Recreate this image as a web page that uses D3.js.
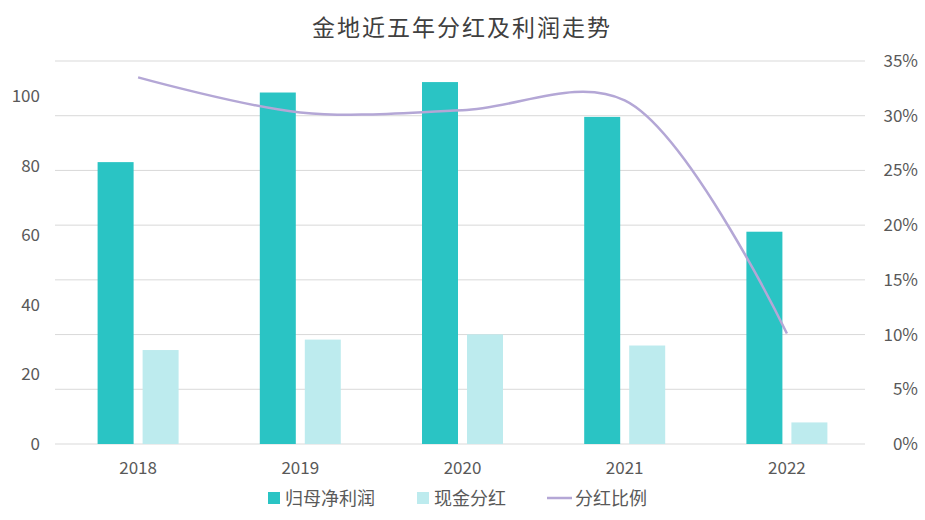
<!DOCTYPE html><html><head><meta charset="utf-8">
<script src="https://cdn.jsdelivr.net/npm/d3@7"></script>
<style>body{margin:0;background:#fff}text{font-family:"Noto Sans CJK SC","Noto Sans",sans-serif}</style></head><body>
<svg id="c" width="925" height="520"></svg>
<script>
const years=["2018","2019","2020","2021","2022"];
const netProfit=[81,101,104,94,61];
const dividend=[27,30,31.5,28.3,6.2];
const ratio=[33.5,30.3,30.5,31.4,10.1];
const leftTicks=[0,20,40,60,80,100];
const rightTicks=[0,5,10,15,20,25,30,35];
const svg=d3.select("#c");
const L=55,R=865,T=61,B=444;
const x=d3.scaleBand().domain(years).range([L+2,R+3]);
const yl=d3.scaleLinear().domain([0,110]).range([B,B-(B-96)*1.1]);
const yr=d3.scaleLinear().domain([0,35]).range([B,T]);
svg.append("g").selectAll("line").data(rightTicks).join("line")
 .attr("x1",L).attr("x2",R).attr("y1",d=>yr(d)).attr("y2",d=>yr(d)).attr("stroke","#d9d9d9");
svg.append("g").selectAll("text").data(leftTicks).join("text").attr("x",40).attr("y",d=>yl(d)+6)
 .attr("text-anchor","end").attr("font-size",17).attr("fill","#595959").text(d=>d);
svg.append("g").selectAll("text").data(rightTicks).join("text").attr("x",918).attr("y",d=>yr(d)+6)
 .attr("text-anchor","end").attr("font-size",17).attr("fill","#595959").text(d=>d+"%");
const bw=36;
svg.append("g").selectAll("rect").data(years).join("rect")
 .attr("x",d=>x(d)+x.bandwidth()/2-bw-4.5).attr("width",bw)
 .attr("y",(d,i)=>yl(netProfit[i])).attr("height",(d,i)=>B-yl(netProfit[i])).attr("fill","#2AC4C4");
svg.append("g").selectAll("rect").data(years).join("rect")
 .attr("x",d=>x(d)+x.bandwidth()/2+4.5).attr("width",bw)
 .attr("y",(d,i)=>yl(dividend[i])).attr("height",(d,i)=>B-yl(dividend[i])).attr("fill","#BDEBEE");
svg.append("path").datum(ratio).attr("fill","none").attr("stroke","#B4A7D6").attr("stroke-width",2.5)
 .attr("d",d3.line().x((d,i)=>x(years[i])+x.bandwidth()/2).y(d=>yr(d)).curve(d3.curveCatmullRom.alpha(0.5)));
svg.append("g").selectAll("text").data(years).join("text").attr("x",d=>x(d)+x.bandwidth()/2).attr("y",474)
 .attr("text-anchor","middle").attr("font-size",17).attr("fill","#595959").text(d=>d);
svg.append("text").attr("x",462).attr("y",36).attr("text-anchor","middle").attr("font-size",23)
 .attr("fill","#404040").attr("letter-spacing",2).text("金地近五年分红及利润走势");
const lg=svg.append("g").attr("font-size",18).attr("fill","#595959");
lg.append("rect").attr("x",268).attr("y",492).attr("width",12).attr("height",12).attr("fill","#2AC4C4");
lg.append("text").attr("x",285).attr("y",505).text("归母净利润");
lg.append("rect").attr("x",417).attr("y",492).attr("width",12).attr("height",12).attr("fill","#BDEBEE");
lg.append("text").attr("x",434).attr("y",505).text("现金分红");
lg.append("line").attr("x1",547).attr("x2",572).attr("y1",498).attr("y2",498).attr("stroke","#B4A7D6").attr("stroke-width",2.5);
lg.append("text").attr("x",575).attr("y",505).text("分红比例");
</script></body></html>
